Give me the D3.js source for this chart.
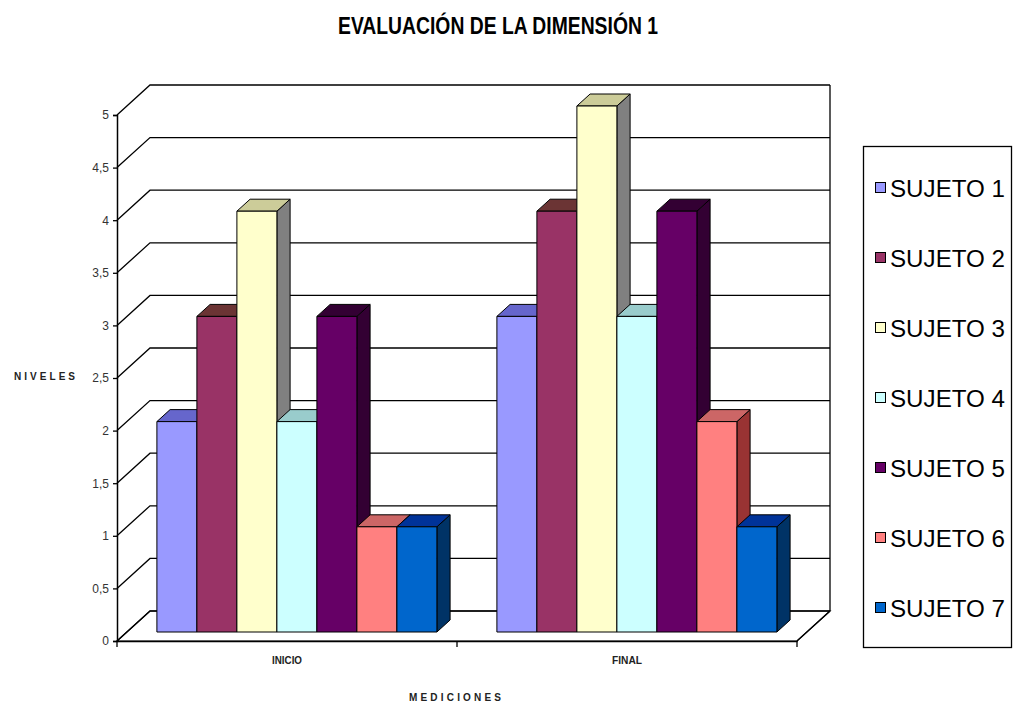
<!DOCTYPE html>
<html>
<head>
<meta charset="utf-8">
<script src="https://cdn.jsdelivr.net/npm/d3@7"></script>
<style>
  html, body { margin: 0; padding: 0; background: #fff; }
  svg { display: block; }
</style>
</head>
<body>
<svg id="chart" width="1014" height="710"></svg>
<script>
const categories = ["INICIO", "FINAL"];
const seriesNames = ["SUJETO 1", "SUJETO 2", "SUJETO 3", "SUJETO 4", "SUJETO 5", "SUJETO 6", "SUJETO 7"];
const inicioValues = [2, 3, 4, 2, 3, 1, 1];
const finalValues = [3, 4, 5, 3, 4, 2, 1];
const yTickValues = [0, 0.5, 1, 1.5, 2, 2.5, 3, 3.5, 4, 4.5, 5];
const yTickLabels = ["0", "0,5", "1", "1,5", "2", "2,5", "3", "3,5", "4", "4,5", "5"];
const frontColors = ["#9999FF", "#993366", "#FFFFCC", "#CCFFFF", "#660066", "#FF8080", "#0066CC"];
const topColors   = ["#6666CC", "#6B3434", "#CCCC99", "#99CCCC", "#330033", "#CC6666", "#003399"];
const sideColors  = ["#4C4C99", "#4C1933", "#808080", "#669999", "#330033", "#993333", "#003366"];

const valuesByCategory = { "INICIO": inicioValues, "FINAL": finalValues };

const svg = d3.select("#chart");

// Scales
const x0 = d3.scaleBand().domain(categories).range([117, 797]).paddingInner(0).paddingOuter(0);
const x1 = d3.scaleBand().domain(seriesNames).range([0, x0.bandwidth()]).paddingInner(0).paddingOuter(0.75);
const y = d3.scaleLinear().domain([0, 5]).range([641, 115]);
const DX = 33, DY = 30;
const P = (x, v, z) => [x + z * DX, y(v) - z * DY];
const poly = pts => pts.map(p => p.join(",")).join(" ");

const xLeft = x0.range()[0], xRight = x0.range()[1];

// Title
svg.append("text")
  .attr("x", 498).attr("y", 34)
  .attr("text-anchor", "middle")
  .attr("font-family", "'Liberation Sans Narrow', 'Liberation Sans', Arial, sans-serif")
  .attr("font-weight", "bold").attr("font-size", 23)
  .attr("textLength", 320).attr("lengthAdjust", "spacingAndGlyphs")
  .text("EVALUACIÓN DE LA DIMENSIÓN 1");

const plot = svg.append("g");

// Floor
plot.append("polygon")
  .attr("points", poly([P(xLeft, 0, 0), P(xRight, 0, 0), P(xRight, 0, 1), P(xLeft, 0, 1)]))
  .attr("fill", "#fff").attr("stroke", "#000").attr("stroke-width", 1.2);

// Gridlines on side wall and back wall
yTickValues.forEach(v => {
  plot.append("polyline")
    .attr("points", poly([P(xLeft, v, 0), P(xLeft, v, 1), P(xRight, v, 1)]))
    .attr("fill", "none").attr("stroke", "#000").attr("stroke-width", 1.3);
});
// Back wall right edge
plot.append("line")
  .attr("x1", P(xRight, 0, 1)[0]).attr("y1", P(xRight, 0, 1)[1])
  .attr("x2", P(xRight, 5, 1)[0]).attr("y2", P(xRight, 5, 1)[1])
  .attr("stroke", "#000").attr("stroke-width", 1.3);

// Bars
const z0 = 0.3, z1 = 0.7;
categories.forEach(cat => {
  const vals = valuesByCategory[cat];
  seriesNames.forEach((s, i) => {
    const v = vals[i];
    const xl = x0(cat) + x1(s);
    const xr = xl + x1.bandwidth();
    const g = plot.append("g");
    g.append("polygon")
      .attr("points", poly([P(xr, 0, z0), P(xr, 0, z1), P(xr, v, z1), P(xr, v, z0)]))
      .attr("fill", sideColors[i]).attr("stroke", "#000").attr("stroke-width", 1).attr("stroke-linejoin", "round");
    g.append("polygon")
      .attr("points", poly([P(xl, v, z0), P(xr, v, z0), P(xr, v, z1), P(xl, v, z1)]))
      .attr("fill", topColors[i]).attr("stroke", "#000").attr("stroke-width", 1).attr("stroke-linejoin", "round");
    g.append("polygon")
      .attr("points", poly([P(xl, 0, z0), P(xr, 0, z0), P(xr, v, z0), P(xl, v, z0)]))
      .attr("fill", frontColors[i]).attr("stroke", "#000").attr("stroke-width", 1).attr("stroke-linejoin", "round");
  });
});

// Y axis
const yAxis = d3.axisLeft(y).tickValues(yTickValues).tickSize(4).tickPadding(4)
  .tickFormat((d, i) => yTickLabels[i]);
const yg = svg.append("g").attr("transform", `translate(${xLeft},0)`).call(yAxis);
yg.select(".domain").attr("stroke", "#000").attr("stroke-width", 1.5);
yg.selectAll(".tick line").attr("stroke", "#000").attr("stroke-width", 1.3);
yg.selectAll(".tick text")
  .attr("font-family", "'Liberation Sans', Arial, sans-serif")
  .attr("font-size", 12).attr("fill", "#333");

// X axis (front floor edge)
const xAxis = d3.axisBottom(x0).tickSize(0).tickPadding(16);
const xg = svg.append("g").attr("transform", `translate(0,${y(0)})`).call(xAxis);
xg.select(".domain").attr("stroke", "#000").attr("stroke-width", 1.5);
xg.selectAll(".tick text")
  .attr("font-family", "'Liberation Sans', Arial, sans-serif")
  .attr("font-weight", "bold").attr("font-size", 10).attr("fill", "#222")
  .attr("textLength", 30).attr("lengthAdjust", "spacingAndGlyphs");
// category boundary ticks
const boundaries = [xLeft].concat(categories.map(c => x0(c) + x0.bandwidth()));
xg.selectAll(".bnd").data(boundaries).enter().append("line")
  .attr("class", "bnd")
  .attr("x1", d => d).attr("x2", d => d).attr("y1", 0).attr("y2", 6)
  .attr("stroke", "#000").attr("stroke-width", 1.3);
// right floor edge
svg.append("line")
  .attr("x1", P(xRight, 0, 0)[0]).attr("y1", P(xRight, 0, 0)[1])
  .attr("x2", P(xRight, 0, 1)[0]).attr("y2", P(xRight, 0, 1)[1])
  .attr("stroke", "#000").attr("stroke-width", 1.2);

// Axis titles
svg.append("text")
  .attr("x", 14).attr("y", 380)
  .attr("font-family", "'Liberation Sans', Arial, sans-serif")
  .attr("font-weight", "bold").attr("font-size", 10).attr("fill", "#222")
  .attr("textLength", 61).attr("lengthAdjust", "spacing")
  .text("NIVELES");
svg.append("text")
  .attr("x", 455).attr("y", 701)
  .attr("text-anchor", "middle")
  .attr("font-family", "'Liberation Sans', Arial, sans-serif")
  .attr("font-weight", "bold").attr("font-size", 10).attr("fill", "#222")
  .attr("textLength", 92).attr("lengthAdjust", "spacing")
  .text("MEDICIONES");

// Legend
const legend = svg.append("g");
legend.append("rect")
  .attr("x", 863.5).attr("y", 146.5).attr("width", 148).attr("height", 501)
  .attr("fill", "#fff").attr("stroke", "#000").attr("stroke-width", 1.3);
const legendY = d3.scalePoint().domain(seriesNames).range([188, 608]);
seriesNames.forEach((s, i) => {
  const cy = legendY(s);
  legend.append("rect")
    .attr("x", 875.5).attr("y", cy - 5.5).attr("width", 10).attr("height", 10)
    .attr("fill", frontColors[i]).attr("stroke", "#000").attr("stroke-width", 1);
  legend.append("text")
    .attr("x", 890).attr("y", cy + 9)
    .attr("font-family", "'Liberation Sans Narrow', 'Liberation Sans', Arial, sans-serif")
    .attr("font-size", 24).attr("fill", "#000")
    .attr("textLength", 115).attr("lengthAdjust", "spacingAndGlyphs")
    .text(s);
});
</script>
</body>
</html>
